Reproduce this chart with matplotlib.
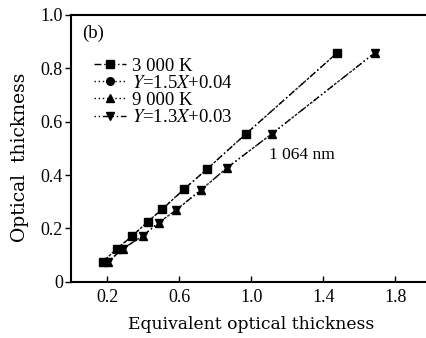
import matplotlib.pyplot as plt

plt.rcParams['font.family'] = ['Liberation Serif', 'DejaVu Serif']
plt.rcParams['mathtext.fontset'] = 'stix'

# upper pair (3 000 K and its fit)
x_hot = [0.176, 0.253, 0.34, 0.424, 0.507, 0.628, 0.755, 0.97, 1.477]
y_hot = [0.075, 0.124, 0.172, 0.225, 0.273, 0.348, 0.423, 0.554, 0.858]
# lower pair (9 000 K and its fit)
x_cold = [0.204, 0.287, 0.397, 0.485, 0.584, 0.722, 0.865, 1.113, 1.686]
y_cold = [0.075, 0.124, 0.172, 0.221, 0.270, 0.345, 0.427, 0.554, 0.858]

labels = ["3 000 K", "$\\mathit{Y}$=1.5$\\mathit{X}$+0.04",
          "9 000 K", "$\\mathit{Y}$=1.3$\\mathit{X}$+0.03"]
xticks = [0.2, 0.6, 1.0, 1.4, 1.8]
yticks = [0, 0.2, 0.4, 0.6, 0.8, 1.0]
yticklabels = ["0", "0.2", "0.4", "0.6", "0.8", "1.0"]

fig = plt.figure(figsize=(4.26, 3.38), dpi=100)
ax = fig.add_axes([0.167, 0.166, 0.833, 0.790])

dashdot = (0, (5, 2, 1, 2))
dashdotdot = (0, (1, 2, 1, 2, 5, 2))
ms = 5.5
ax.plot(x_hot, y_hot, color='k', ls=dashdot, lw=1, marker='s', ms=ms, label=labels[0])
ax.plot(x_hot, y_hot, color='k', ls=(0, (1, 2)), lw=1, marker='o', ms=ms, label=labels[1])
ax.plot(x_cold, y_cold, color='k', ls=(0, (1, 2)), lw=1, marker='^', ms=ms, label=labels[2])
ax.plot(x_cold, y_cold, color='k', ls=dashdotdot, lw=1, marker='v', ms=ms, label=labels[3])

ax.set_xlim(0, 1.97)
ax.set_ylim(0, 1.0)
ax.set_xticks(xticks)
ax.set_xticklabels([f"{t:.1f}" for t in xticks])
ax.set_yticks(yticks)
ax.set_yticklabels(yticklabels)
ax.tick_params(axis='x', direction='in', length=4, labelsize=13, width=1, pad=5)
ax.tick_params(axis='y', direction='out', length=4, labelsize=13, width=1, pad=2)
for s in ['left', 'bottom', 'top']:
    ax.spines[s].set_linewidth(1.5)
ax.spines['right'].set_visible(False)

ax.set_xlabel("Equivalent optical thickness", fontsize=12.3, family='DejaVu Serif')
ax.set_ylabel("Optical  thickness", fontsize=13.5, family='DejaVu Serif')
ax.xaxis.set_label_coords(0.508, -0.161)
ax.xaxis.label.set_va('center')
ax.yaxis.set_label_coords(-0.144, 0.466)
ax.yaxis.label.set_va('center')
ax.text(0.03, 0.965, "(b)", transform=ax.transAxes, fontsize=13.5, va='top')
ax.text(1.10, 0.475, "1 064 nm", fontsize=12.5, va='center')

ax.legend(loc='upper left', bbox_to_anchor=(0.065, 0.84), frameon=False, fontsize=13.5,
          handlelength=1.7, handletextpad=0.3, labelspacing=0.0, borderpad=0.0,
          borderaxespad=0.0)

fig.savefig("out.png", dpi=100)
